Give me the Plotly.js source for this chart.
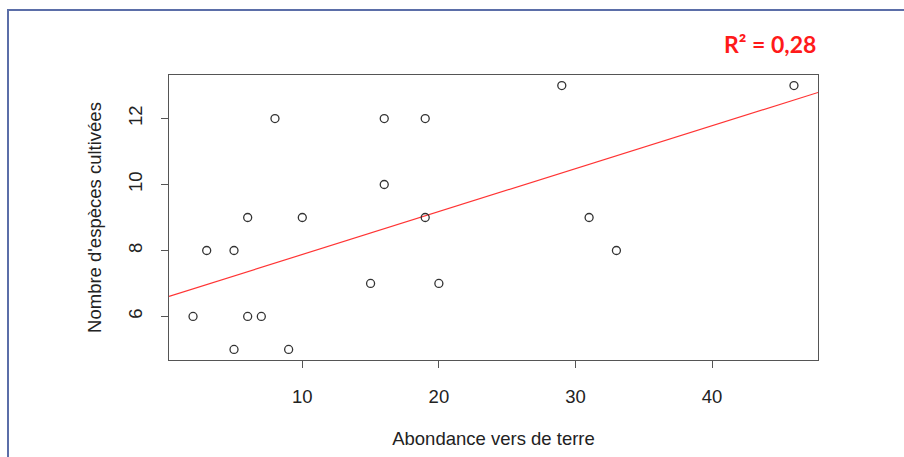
<!DOCTYPE html>
<html>
<head>
<meta charset="utf-8">
<script src="https://cdn.plot.ly/plotly-3.0.1.min.js"></script>
<style>
  html, body { margin: 0; padding: 0; background: #ffffff; }
  #frame { position: absolute; left: 7px; top: 9px; width: 1000px; height: 600px;
           border-left: 2px solid #5b6ea8; border-top: 2px solid #5b6ea8; }
  #chart { position: absolute; left: 0; top: 0; width: 904px; height: 457px; }
</style>
</head>
<body>
<div id="frame"></div>
<div id="chart"></div>
<script>
const abondance = [2, 3, 5, 5, 6, 6, 7, 8, 9, 10, 15, 16, 16, 19, 19, 20, 29, 31, 33, 46];
const especes   = [6, 8, 8, 5, 9, 6, 6, 12, 5, 9, 7, 12, 10, 12, 9, 7, 13, 9, 8, 13];

// Regression line endpoints
const fitX = [0.24, 47.76];
const fitY = [6.61, 12.79];

const xTicks = [10, 20, 30, 40];
const yTicks = [6, 8, 10, 12];
const r2Label = "R² = 0,28";

const axisFont = { family: "Liberation Sans, Arial, sans-serif", size: 18.5, color: "#222" };

const traces = [
  {
    x: fitX, y: fitY, type: "scatter", mode: "lines",
    line: { color: "rgba(255,30,30,0.9)", width: 1.2 },
    hoverinfo: "skip"
  },
  {
    x: abondance, y: especes, type: "scatter", mode: "markers",
    marker: { symbol: "circle-open", size: 8, color: "#333", line: { width: 1.3, color: "#333" } }
  }
];

const layout = {
  width: 904, height: 457,
  margin: { l: 169, r: 86, t: 75, b: 97 },
  paper_bgcolor: "rgba(0,0,0,0)",
  plot_bgcolor: "#ffffff",
  showlegend: false,
  xaxis: {
    range: [0.24, 47.76],
    tickvals: xTicks, ticktext: xTicks.map(String),
    ticks: "outside", ticklen: 7, tickwidth: 1, tickcolor: "#555",
    showline: true, mirror: true, linecolor: "#555", linewidth: 1,
    showgrid: false, zeroline: false,
    tickfont: axisFont,
    ticklabelstandoff: 13,
    title: { text: "Abondance vers de terre", font: axisFont, standoff: 25 }
  },
  yaxis: {
    range: [4.68, 13.32],
    tickvals: yTicks, ticktext: yTicks.map(String),
    tickangle: -90,
    ticks: "outside", ticklen: 7, tickwidth: 1, tickcolor: "#555",
    showline: true, mirror: true, linecolor: "#555", linewidth: 1,
    showgrid: false, zeroline: false,
    tickfont: axisFont,
    ticklabelstandoff: 12,
    title: { text: "Nombre d'espèces cultivées", font: axisFont, standoff: 18 }
  },
  annotations: [
    {
      text: "<b>" + r2Label + "</b>",
      xref: "paper", yref: "paper", x: 1, y: 1.109,
      xanchor: "right", yanchor: "middle", showarrow: false,
      font: { family: "Lato, Open Sans, sans-serif", size: 23, color: "#ff1a1a" }
    }
  ]
};

Plotly.newPlot("chart", traces, layout, { displayModeBar: false, staticPlot: true });
</script>
</body>
</html>
